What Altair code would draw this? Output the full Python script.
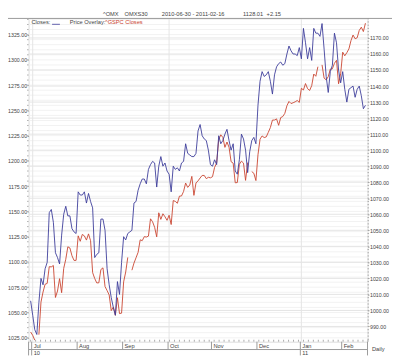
import altair as alt
import pandas as pd

# ---------------- data (one value per OMX trading day, 2010-06-30 .. 2011-02-16) ----------------
omx_closes = [
    1006, 997, 988, 985, 1005, 1020, 1016, 1026, 1030, 1061,
    1063, 1055, 1036, 1033, 1029, 1047, 1060, 1065, 1059, 1059,
    1051, 1049, 1048, 1074, 1072, 1072, 1074, 1067, 1073, 1068,
    1064, 1033, 1035, 1036, 1057, 1057, 1050, 1026, 1016, 1008,
    1002, 997, 1018, 1010, 1030, 1046, 1044, 1048, 1049, 1050,
    1067, 1068, 1075, 1079, 1082, 1082, 1079, 1088, 1091, 1093,
    1092, 1077, 1090, 1096, 1090, 1092, 1087, 1085, 1074, 1090,
    1088, 1089, 1087, 1092, 1093, 1104, 1098, 1097, 1096, 1096,
    1098, 1112, 1116, 1109, 1107, 1106, 1100, 1091, 1090, 1094,
    1091, 1109, 1104, 1106, 1110, 1113, 1106, 1100, 1104, 1087,
    1085, 1094, 1110, 1107, 1100, 1086, 1099, 1106, 1108, 1104,
    1128, 1143, 1149, 1146, 1147, 1149, 1143, 1135, 1147, 1152,
    1154, 1155, 1153, 1154, 1160, 1165, 1162, 1160, 1160, 1159,
    1164, 1157, 1176, 1167, 1157, 1164, 1156, 1176, 1173, 1173,
    1171, 1179, 1163, 1146, 1136, 1149, 1153, 1173, 1167, 1150,
    1142, 1149, 1138, 1130, 1138, 1139, 1140, 1133, 1138, 1140,
    1134, 1125.86, 1128.01,
]

gspc_closes = [
    1030.71, 1027.37, 1022.58, None, 1028.06, 1060.27, 1070.25, 1077.96, 1078.75, 1095.34,
    1095.17, 1096.48, 1064.88, 1071.25, 1083.48, 1069.59, 1093.67, 1102.66, 1115.01, 1113.84,
    1106.13, 1101.53, 1101.60, 1125.86, 1120.46, 1127.24, 1125.81, 1121.64, 1127.79, 1121.06,
    1089.47, 1083.61, 1079.25, 1079.38, 1092.54, 1094.16, 1075.63, 1071.69, 1067.36, 1051.87,
    1055.33, 1047.22, 1064.59, 1048.92, 1049.33, 1080.29, 1090.10, 1104.51, None, 1091.84,
    1098.87, 1104.18, 1109.55, 1121.90, 1121.10, 1125.07, 1124.66, 1125.59, 1142.71, 1139.78,
    1134.28, 1124.83, 1148.67, 1142.16, 1147.70, 1144.73, 1141.20, 1146.24, 1137.03, 1160.75,
    1159.97, 1158.06, 1165.15, 1165.32, 1169.77, 1178.10, 1173.81, 1176.19, 1184.71, 1165.90,
    1178.17, 1180.26, 1183.08, 1185.62, 1185.64, 1182.45, 1183.78, 1183.26, 1184.38, 1193.57,
    1197.96, 1221.06, 1225.85, 1223.25, 1213.40, 1218.71, 1213.54, 1199.21, 1197.75, 1178.34,
    1178.59, 1196.69, 1199.73, 1197.84, 1180.73, 1198.35, None, 1189.40, 1187.76, 1180.55,
    1206.07, 1221.53, 1224.71, 1223.12, 1223.75, 1228.28, 1233.00, 1240.40, 1240.46, 1241.59,
    1235.23, 1242.87, 1243.91, 1247.08, 1254.60, 1258.84, 1256.77, 1257.54, 1258.51, 1259.78,
    1257.88, 1271.87, 1270.20, 1276.56, 1271.50, 1269.75, 1274.48, 1285.96, 1283.76, 1293.24,
    None, 1295.02, 1281.92, 1280.26, 1283.35, 1290.84, 1291.18, 1296.63, 1299.54, 1276.34,
    1286.12, 1307.59, 1304.03, 1307.10, 1310.87, 1319.05, 1324.57, 1320.88, 1321.87, 1329.15,
    1332.32, 1328.01, 1336.32,
]

month_names = ["Jul", "Aug", "Sep", "Oct", "Nov", "Dec", "Jan", "Feb"]
month_start = [1, 23, 45, 67, 88, 110, 131, 151]      # trading-day index of 1st session
year_labels = ["10", "11"]
year_start = [1, 131]
quarter_start = [1, 67, 131]
left_ticks = [1025, 1050, 1075, 1100, 1125, 1150, 1175, 1200, 1225, 1250, 1275, 1300, 1325]
right_ticks = [990, 1000, 1010, 1020, 1030, 1040, 1050, 1060, 1070, 1080,
               1090, 1100, 1110, 1120, 1130, 1140, 1150, 1160, 1170]
left_minor = list(range(1025, 1341, 5))
right_minor = list(range(982, 1183, 2))
x_minor = [k * 2.4 for k in range(69)]

# ---------------- layout / style ----------------
W, H = 346, 330
FONT = "Liberation Sans"
FS = 5.8
AFS = 5.4
BLUE = "#3b3b9a"
RED = "#c9432f"
TXT = "#444444"
FRAME = "#9a9a9a"

xs = alt.Scale(domain=[-1, 163], nice=False, zero=False)
ls = alt.Scale(domain=[1021.1, 1341.0], nice=False, zero=False)
rs = alt.Scale(domain=[980.5, 1182.2], nice=False, zero=False)

df = pd.DataFrame({"i": list(range(len(omx_closes))), "omx": omx_closes, "gspc": gspc_closes})
one = pd.DataFrame({"k": [0]})   # single row for decorations

grid_l = alt.Chart(pd.DataFrame({"v": left_minor})).mark_rule(color="#f2f2f2", strokeWidth=1).encode(
    x=alt.value(0), x2=alt.value(W), y=alt.Y("v:Q", scale=ls, axis=None))
grid_r = alt.Chart(pd.DataFrame({"v": right_ticks})).mark_rule(color="#e4e4e4", strokeWidth=1).encode(
    x=alt.value(0), x2=alt.value(W), y=alt.Y("v:Q", scale=rs, axis=None))
vgrid = alt.Chart(pd.DataFrame({"i": quarter_start})).mark_rule(color="#e4e4e4", strokeWidth=1).encode(
    x=alt.X("i:Q", scale=xs, axis=None), y=alt.value(0), y2=alt.value(H))

tick_l = alt.Chart(pd.DataFrame({"v": left_minor})).mark_rule(color="#aaaaaa", strokeWidth=1).encode(
    x=alt.value(-1.5), x2=alt.value(0), y=alt.Y("v:Q", scale=ls, axis=None))
tick_r = alt.Chart(pd.DataFrame({"v": right_minor})).mark_rule(color="#aaaaaa", strokeWidth=1).encode(
    x=alt.value(W), x2=alt.value(W + 1.5), y=alt.Y("v:Q", scale=rs, axis=None))
tick_x = alt.Chart(pd.DataFrame({"i": x_minor})).mark_rule(color="#aaaaaa", strokeWidth=1).encode(
    x=alt.X("i:Q", scale=xs, axis=None), y=alt.value(H - 2), y2=alt.value(H))

axis_common = dict(format=".2f", tickSize=1.5, labelFontSize=AFS, labelFont=FONT, labelColor=TXT,
                   tickColor="#999999", domain=False, grid=False, labelPadding=0.5, title="")

red = alt.Chart(df).mark_line(color=RED, strokeWidth=0.9, invalid="break-paths-show-domains").encode(
    x=alt.X("i:Q", scale=xs, axis=None),
    y=alt.Y("gspc:Q", scale=ls, axis=alt.Axis(orient="left", values=left_ticks, **axis_common)))
blue = alt.Chart(df).mark_line(color=BLUE, strokeWidth=0.9).encode(
    x=alt.X("i:Q", scale=xs, axis=None),
    y=alt.Y("omx:Q", scale=rs, axis=alt.Axis(orient="right", values=right_ticks, **axis_common)))

# bottom time axis
months_df = pd.DataFrame({"m": month_names, "b": [s - 0.5 for s in month_start]})
years_df = pd.DataFrame({"y": year_labels, "b": [s - 0.5 for s in year_start]})
msep = alt.Chart(months_df).mark_rule(color=FRAME, strokeWidth=1).encode(
    x=alt.X("b:Q", scale=xs, axis=None), y=alt.value(H), y2=alt.value(H + 8))
mlab = alt.Chart(months_df).mark_text(align="left", baseline="middle", dx=2, fontSize=FS,
                                      font=FONT, color=TXT).encode(
    x=alt.X("b:Q", scale=xs, axis=None), y=alt.value(H + 4.5), text="m:N")
ysep = alt.Chart(years_df).mark_rule(color=FRAME, strokeWidth=1).encode(
    x=alt.X("b:Q", scale=xs, axis=None), y=alt.value(H + 8), y2=alt.value(H + 14))
ylab = alt.Chart(years_df).mark_text(align="left", baseline="middle", dx=2, fontSize=FS,
                                     font=FONT, color=TXT).encode(
    x=alt.X("b:Q", scale=xs, axis=None), y=alt.value(H + 11.5), text="y:N")
row_line = alt.Chart(one).mark_rule(color=FRAME, strokeWidth=1).encode(
    x=alt.value(0), x2=alt.value(W), y=alt.value(H + 8))
frame_l = alt.Chart(one).mark_rule(color=FRAME, strokeWidth=1).encode(
    x=alt.value(0), y=alt.value(H), y2=alt.value(H + 14))
frame_r = alt.Chart(one).mark_rule(color=FRAME, strokeWidth=1).encode(
    x=alt.value(W), y=alt.value(H), y2=alt.value(H + 14))
daily = alt.Chart(one).mark_text(text="Daily", align="center", baseline="middle", fontSize=FS,
                                 font=FONT, color=TXT).encode(
    x=alt.value(W + 11), y=alt.value(H + 7.5))

# header and legend
top_line = alt.Chart(one).mark_rule(color=FRAME, strokeWidth=1).encode(
    x=alt.value(-21), x2=alt.value(W + 25), y=alt.value(0))


def label(txt, x, y, color=TXT, size=FS):
    return alt.Chart(one).mark_text(text=txt, align="left", baseline="alphabetic", fontSize=size,
                                    font=FONT, color=color).encode(x=alt.value(x), y=alt.value(y))


header = [
    label("^OMX", 76, -2),
    label("OMXS30", 98, -2),
    label("2010-06-30 - 2011-02-16", 136, -2),
    label("1128.01", 219, -2),
    label("+2.15", 243, -2),
]
legend = [
    label("Closes:", 3, 6),
    label("Price Overlay:", 42, 6),
    label("^GSPC Closes", 78, 6, color=RED),
]
legend_line = alt.Chart(one).mark_rule(color=BLUE, strokeWidth=0.8).encode(
    x=alt.value(24), x2=alt.value(32), y=alt.value(6))

chart = alt.layer(
    grid_l, grid_r, vgrid, tick_l, tick_r, tick_x,
    red, blue,
    msep, mlab, ysep, ylab, row_line, frame_l, frame_r, daily, top_line,
    *header, *legend, legend_line,
).resolve_scale(y="independent").properties(
    width=W, height=H,
    padding={"left": 21, "top": 7, "right": 25, "bottom": 13},
    autosize=alt.AutoSizeParams(type="none"),
).configure_view(stroke=FRAME, strokeWidth=1).configure(background="white")

chart.save("out.html", embed_options={"renderer": "svg", "actions": False})
